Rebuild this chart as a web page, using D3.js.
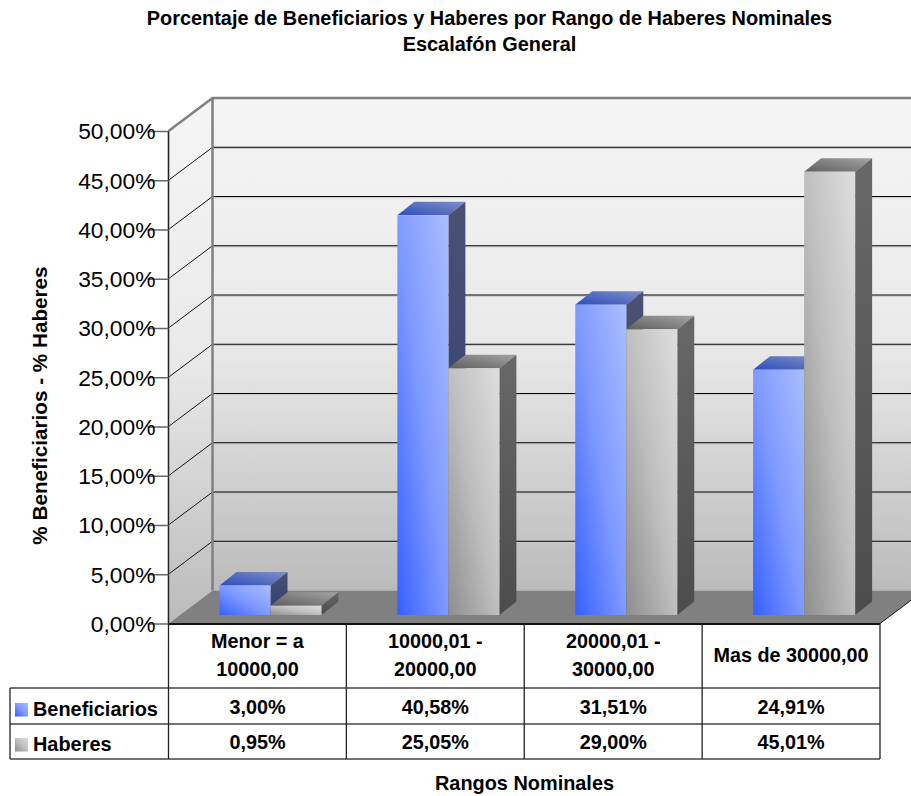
<!DOCTYPE html>
<html><head><meta charset="utf-8">
<script src="https://cdn.jsdelivr.net/npm/d3@7/dist/d3.min.js"></script>
<style>html,body{margin:0;padding:0;background:#fff}svg{display:block}text{font-family:"Liberation Sans",Arial,sans-serif;fill:#000}</style>
</head><body><div id="c"></div>
<script>
const categories = [["Menor = a","10000,00"],["10000,01 -","20000,00"],["20000,01 -","30000,00"],["Mas de 30000,00"]];
const beneficiarios = [3.00,40.58,31.51,24.91];
const haberes = [0.95,25.05,29.00,45.01];
const seriesNames = ["Beneficiarios","Haberes"];
const yTicks = [0,5,10,15,20,25,30,35,40,45,50];
const titleLines = ["Porcentaje de Beneficiarios y Haberes por Rango de Haberes Nominales","Escalafón General"];
const yTitle = "% Beneficiarios - % Haberes";
const xTitle = "Rangos Nominales";

const W=911,H=796;
const fx=168.5, fr=880, y0=623.5, yTop=131;
const dx=44, dy=-33;
const bdx=17, bdy=-13.5, baseDy=-8.5;
const fmt=v=>v.toFixed(2).replace(".",",")+"%";
const y=d3.scaleLinear().domain([0,50]).range([y0,yTop]);
const x=d3.scaleBand().domain(d3.range(categories.length)).range([fx,fr]);
const sub=d3.scaleBand().domain([0,1]).range([0,102]);
const rows=[624,688,724,759];

const svg=d3.select("#c").append("svg").attr("width",W).attr("height",H);
const defs=svg.append("defs");
function grad(id,stops,x1,y1,x2,y2){
  const g=defs.append("linearGradient").attr("id",id).attr("x1",x1).attr("y1",y1).attr("x2",x2).attr("y2",y2);
  stops.forEach((c,i)=>g.append("stop").attr("offset",i/(stops.length-1)).attr("stop-color",c));
}
grad("wall",["#f5f5f5","#e9e9e9","#bbbbbb"],0,0,0,1);
grad("f0",["#3560ff","#7f9aff","#aabdff"],0,1,1,0);
grad("f1",["#8e8e8e","#bfbfbf","#dedede"],0,1,1,0);
grad("t0",["#2c4dbd","#8090c4"],0,1,1,0);
grad("t1",["#5f5f5f","#a4a4a4"],0,1,1,0);
grad("s0",["#4a5272","#2c3c78"],0,0,0,1);
grad("s1",["#686868","#4c4c4c"],0,0,0,1);
const poly=(pts)=>pts.map(p=>p.join(",")).join(" ");

// walls and floor
svg.append("rect").attr("x",fx+dx).attr("y",y(50)+dy).attr("width",W-fx-dx).attr("height",y0-y(50))
  .attr("fill","url(#wall)");
svg.append("polygon").attr("points",poly([[fx,y(50)],[fx+dx,y(50)+dy],[fx+dx,y0+dy],[fx,y0]])).attr("fill","url(#wall)");
svg.append("polygon").attr("points",poly([[fx,y0],[fx+dx,y0+dy],[fr+dx,y0+dy],[fr,y0]])).attr("fill","#808080");

// grid
const grid=svg.append("g");
yTicks.slice(1,-1).forEach(t=>{
  grid.append("line").attr("x1",fx+dx).attr("x2",W).attr("y1",y(t)+dy+1.2).attr("y2",y(t)+dy+1.2).attr("stroke","#c8c8c8").attr("stroke-width",1);
  grid.append("line").attr("x1",fx+dx).attr("x2",W).attr("y1",y(t)+dy).attr("y2",y(t)+dy).attr("stroke","#000").attr("stroke-width",1.2);
  grid.append("line").attr("x1",fx).attr("x2",fx+dx).attr("y1",y(t)).attr("y2",y(t)+dy).attr("stroke","#111").attr("stroke-width",1);
});
// frame
svg.append("path").attr("fill","none").attr("stroke","#808080").attr("stroke-width",2.5)
  .attr("d",`M${fx},${y(50)}L${fx+dx},${y(50)+dy}L${W},${y(50)+dy}M${fx+dx},${y(50)+dy}V${y0+dy}`);
svg.append("path").attr("fill","none").attr("stroke","#808080").attr("stroke-width",2)
  .attr("d",`M${fx},${y(50)}V${y0}`);
svg.append("line").attr("x1",fx).attr("x2",fx).attr("y1",y(50)).attr("y2",y0).attr("stroke","#222").attr("stroke-width",1);
svg.append("line").attr("x1",fr).attr("y1",y0).attr("x2",fr+dx).attr("y2",y0+dy).attr("stroke","#111").attr("stroke-width",1);

// y axis
const yAxis=d3.axisLeft(y).tickValues(yTicks).tickFormat(fmt).tickSize(22);
const ya=svg.append("g").attr("transform",`translate(${fx},0)`).call(yAxis);
ya.select(".domain").remove();
ya.selectAll("line").attr("x2",-21).attr("stroke","#666").attr("stroke-width",1.5);
ya.selectAll("text").attr("x",-13).attr("font-size","22.8px").attr("dy","0.34em").style("font-family",'"Liberation Sans",Arial,sans-serif').attr("fill","#000");

// bars
const series=[beneficiarios,haberes];
const barStart=51;
const drawBar=(si,ci)=>{
  const v=series[si][ci];
  const bx=x(ci)+barStart+sub(si);
  const bw=sub.bandwidth(), by=y(v)+baseDy, bb=y(0)+baseDy;
  const g=svg.append("g");
  g.append("polygon").attr("points",poly([[bx,by],[bx+bdx,by+bdy],[bx+bw+bdx,by+bdy],[bx+bw,by]])).attr("fill",`url(#t${si})`);
  g.append("polygon").attr("points",poly([[bx+bw,by],[bx+bw+bdx,by+bdy],[bx+bw+bdx,bb+bdy],[bx+bw,bb]])).attr("fill",`url(#s${si})`);
  g.append("rect").attr("x",bx).attr("y",by).attr("width",bw).attr("height",bb-by).attr("fill",`url(#f${si})`);
};
categories.forEach((c,ci)=>{drawBar(0,ci);drawBar(1,ci);});

// table
const tb=svg.append("g").attr("stroke","#222").attr("stroke-width",1.3);
rows.forEach((r,i)=>tb.append("line").attr("x1",i===0?fx:10).attr("x2",fr).attr("y1",r).attr("y2",r)
   .attr("stroke",i===0?"#111":"#444").attr("stroke-width",i===0?2:1.3));
d3.range(categories.length+1).forEach(i=>{
  const xp=i<categories.length?x(i):fr;
  tb.append("line").attr("x1",xp).attr("x2",xp).attr("y1",y0).attr("y2",rows[3]);
});
tb.append("line").attr("x1",10).attr("x2",10).attr("y1",rows[1]).attr("y2",rows[3]);

const T=svg.append("g").attr("font-weight","bold").attr("font-size","19.8px").attr("text-anchor","middle");
categories.forEach((c,i)=>{
  const cx=x(i)+x.bandwidth()/2;
  if(c.length===2){
    T.append("text").attr("x",cx).attr("y",648).text(c[0]);
    T.append("text").attr("x",cx).attr("y",675.5).text(c[1]);
  } else T.append("text").attr("x",cx).attr("y",662).text(c[0]);
  T.append("text").attr("x",cx).attr("y",714).text(fmt(beneficiarios[i]));
  T.append("text").attr("x",cx).attr("y",748.5).text(fmt(haberes[i]));
});
// legend
seriesNames.forEach((n,i)=>{
  const ry=[703,738][i];
  svg.append("rect").attr("x",15).attr("y",ry).attr("width",13).attr("height",13.5).attr("fill",`url(#f${i})`);
  svg.append("text").attr("x",33).attr("y",ry+12.6).attr("font-weight","bold").attr("font-size","19.9px").text(n);
});

// titles
titleLines.forEach((t,i)=>svg.append("text").attr("x",489.5).attr("y",24.5+i*26).attr("text-anchor","middle")
  .attr("font-weight","bold").attr("font-size","19.9px").text(t));
svg.append("text").attr("transform","translate(47,405.5) rotate(-90)").attr("text-anchor","middle").attr("font-weight","bold").attr("font-size","20.7px").text(yTitle);
svg.append("text").attr("x",524.5).attr("y",790).attr("text-anchor","middle").attr("font-weight","bold").attr("font-size","19.9px").text(xTitle);
</script></body></html>
